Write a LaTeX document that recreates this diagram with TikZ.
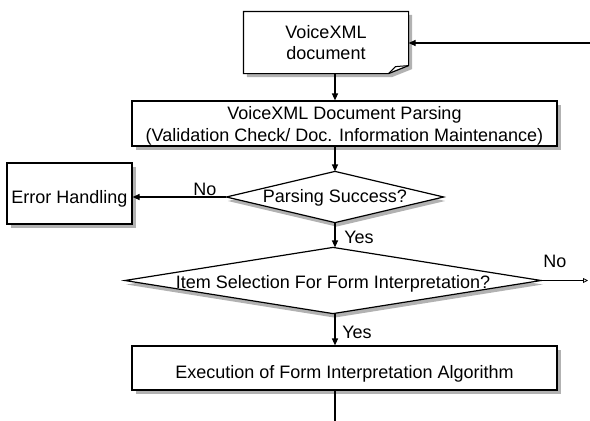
\documentclass[tikz,border=0pt]{standalone}
\usepackage{fontspec}
\setmainfont{Liberation Sans}
\usetikzlibrary{arrows.meta,calc,shadows,backgrounds}
\begin{document}
\begin{tikzpicture}[x=1pt,y=-1pt,
  line width=1.2pt,
  txt/.style={font=\fontsize{18}{21}\selectfont, inner sep=0pt, align=center},
  lbl/.style={txt, text depth=0pt},
  shad/.style={drop shadow={shadow xshift=3.5pt, shadow yshift=-3.5pt, fill=black!30, opacity=1}},
  dshad/.style={drop shadow={shadow xshift=1.5pt, shadow yshift=-4pt, fill=black!30, opacity=1}},
  outline/.style={draw, line width=1.2pt, fill=white},
  procbox/.style={txt, rectangle, draw, fill=white, shad},
  decbox/.style={txt, rectangle, draw=none},
  flow/.style={-{Triangle[length=7pt,width=6pt]}},
  openflow/.style={-{Triangle[open,length=5pt,width=5pt,line width=0.8pt]}}
]
\useasboundingbox (0,0) rectangle (590,421);

% document symbol with folded lower right corner
\node[txt, minimum width=164pt, minimum height=61pt, text depth=0pt] (doc)
  at (326,42.5) {VoiceXML\\document};
\begin{scope}[on background layer]
  \path[outline, shad]
    (doc.north west) -- (doc.north east) -- ($(doc.south east)+(0,-8)$)
    -- ($(doc.south east)+(-20,0)$) -- (doc.south west) -- cycle;
  \draw[line width=1pt] ($(doc.south east)+(-20,0)$) -- ($(doc.south east)+(-13,-7)$)
    -- ($(doc.south east)+(0,-8)$);
\end{scope}

% processing steps
\node[procbox, minimum width=425pt, minimum height=45pt, text depth=0pt,
      font=\fontsize{18}{22}\selectfont] (parse) at (344.5,123.5)
  {VoiceXML Document Parsing\\(Validation Check/ Doc. Information Maintenance)};

\node[procbox, minimum width=125pt, minimum height=61pt,
      text height=23pt, text depth=4pt] (err) at (69.5,193.5) {Error Handling};

\node[procbox, minimum width=425pt, minimum height=44pt,
      text height=24pt, text depth=4pt] (exec) at (344.5,368)
  {Execution of Form Interpretation Algorithm};

% decisions
\node[decbox, minimum width=216pt, minimum height=50pt,
      text height=14pt, text depth=4pt] (d1) at (335,197) {Parsing Success?};
\begin{scope}[on background layer]
  \path[outline, dshad] (d1.north) -- (d1.east) -- (d1.south) -- (d1.west) -- cycle;
\end{scope}

\node[decbox, minimum width=415pt, minimum height=65pt,
      text height=19pt, text depth=4pt] (d2) at (333,280.5)
  {Item Selection For Form Interpretation?};
\begin{scope}[on background layer]
  \path[outline, dshad] (d2.north) -- (d2.east) -- (d2.south) -- (d2.west) -- cycle;
\end{scope}

% free ends of connectors
\coordinate (back) at (590,43);
\coordinate (noend) at (588,280.5);
\coordinate (out) at (335,421);

% connectors
\draw[flow] (back) -- (back -| doc.east);
\draw[flow] (doc.south -| d1.north) -- (parse.north -| d1.north);
\draw[flow] (parse.south -| d1.north) -- (d1.north);
\draw[flow] (d1.west) -- (d1.west -| err.east);
\draw[flow] (d1.south) -- (d2.north -| d1.south);
\draw[openflow] (d2.east) -- (noend);
\draw[flow] (d2.south -| d1.south) -- (exec.north -| d1.south);
\draw (exec.south -| out) -- (out);

% branch labels
\node[lbl] (no1) at (205,189) {No};
\node[lbl] (yes1) at (359,237) {Yes};
\node[lbl] (no2) at (555,261) {No};
\node[lbl] (yes2) at (357,332) {Yes};
\end{tikzpicture}
\end{document}
